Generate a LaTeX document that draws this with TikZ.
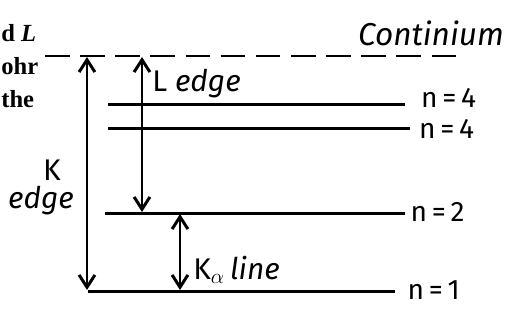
\documentclass[tikz,border=0pt]{standalone}
\usepackage{fontspec}
\setmainfont{Liberation Serif}
\newfontfamily\hand{Fira Sans}
\usetikzlibrary{arrows.meta}
\tikzset{
  level/.style={line width=1.7pt},
  gap/.style={line width=1.7pt,
    {Straight Barb[length=7pt,width=9pt,line width=1.7pt]}-{Straight Barb[length=7pt,width=9pt,line width=1.7pt]}},
  lbl/.style={font=\hand\fontsize{17}{18}\selectfont, inner sep=0pt},
  nlbl/.style={font=\hand\fontsize{16}{16}\selectfont, inner sep=0pt, anchor=west,
    text height=10pt, text depth=0pt},
  book/.style={font=\bfseries\fontsize{14}{15}\selectfont, inner sep=0pt, anchor=west},
}

\begin{document}
\begin{tikzpicture}[x=0.02cm, y=-0.02cm]
  \useasboundingbox (0,0) rectangle (510,329);

  % cut-off text of the page
  \node[book] (t1) at (1,33) {d \textit{L}};
  \node[book] (t2) at (1,66) {ohr};
  \node[book] (t3) at (1,99) {the};

  % levels
  \coordinate (c0) at (45,56);   \coordinate (c1) at (460,56);
  \coordinate (a0) at (108,104); \coordinate (a1) at (405,104);
  \coordinate (b0) at (108,128); \coordinate (b1) at (410,128);
  \coordinate (m0) at (105,213); \coordinate (m1) at (405,213);
  \coordinate (k0) at (88,291);  \coordinate (k1) at (395,291);

  \draw[level, dash pattern=on 14pt off 6pt] (c0) -- (c1);
  \draw[level] (a0) -- (a1);
  \draw[level] (b0) -- (b1);
  \draw[level] (m0) -- (m1);
  \draw[level] (k0) -- (k1);

  \node[lbl, font=\hand\itshape\fontsize{18}{20}\selectfont] (cont) at (431,33) {Continium};
  \node[nlbl] (na) at ([xshift=9, yshift=3pt]a1) {n\,=\,4};
  \node[nlbl] (nb) at ([xshift=5, yshift=-1pt]b1) {n\,=\,4};
  \node[nlbl] (nm) at ([xshift=3]m1) {n\,=\,2};
  \node[nlbl] (nk) at ([xshift=7]k1) {n\,=\,1};

  % transitions
  \coordinate (ke0) at (87,57);  \coordinate (ke1) at (87,290);
  \coordinate (le0) at (142,57); \coordinate (le1) at (142,212);
  \coordinate (ka0) at (180,214); \coordinate (ka1) at (180,290);
  \draw[gap] (ke1) -- (ke0);
  \draw[gap] (le1) -- (le0);
  \draw[gap] (ka1) -- (ka0);

  \node[lbl] (kedge) at (52,170) {K};
  \node[lbl, font=\hand\itshape\fontsize{17}{18}\selectfont] (kedge2) at (41,201) {edge};
  \node[lbl, anchor=west] (ledge) at (152,84) {L \textit{edge}};
  \node[lbl, anchor=west] (kaline) at (193,270) {K$_\alpha$\,\textit{line}};
\end{tikzpicture}
\end{document}
